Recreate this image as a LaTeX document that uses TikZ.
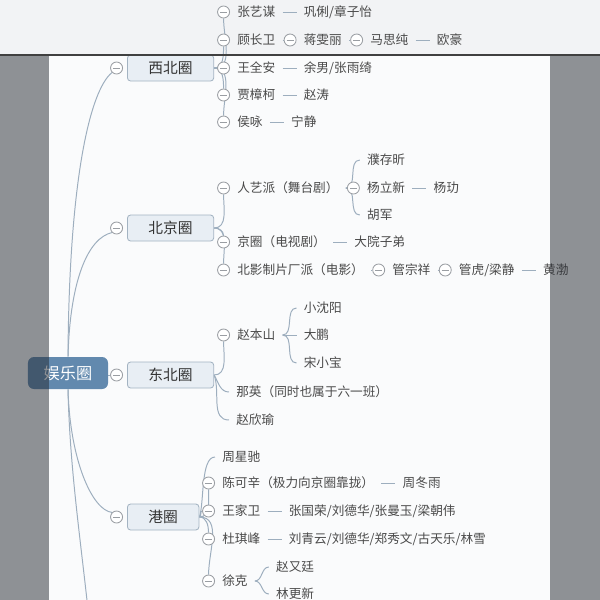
\documentclass[tikz,border=0pt]{standalone}
\usepackage{fontspec}
\setmainfont{Noto Sans CJK SC}
\usetikzlibrary{positioning}
\definecolor{pagewhite}{HTML}{FAFBFC}
\definecolor{stripgray}{HTML}{F2F3F5}
\definecolor{sidegray}{HTML}{24282F}
\definecolor{rootblue}{HTML}{6289AE}
\definecolor{catfill}{HTML}{E8EEF4}
\definecolor{catedge}{HTML}{A3B3C2}
\definecolor{cattext}{HTML}{333333}
\definecolor{leaftext}{HTML}{4A4A4A}
\definecolor{linkblue}{HTML}{9DAEBE}
\definecolor{foldgray}{HTML}{9A9EA3}
\pgfdeclarelayer{bg}
\pgfdeclarelayer{links}
\pgfdeclarelayer{fg}
\pgfsetlayers{bg,links,main,fg}
\begin{document}
\begin{tikzpicture}[x=0.025cm, y=-0.025cm, node distance=0.35cm,
    leaf/.style={anchor=west, inner xsep=0.175cm, inner ysep=0.05cm, text=leaftext, font=\fontsize{9}{11}\selectfont},
    catbox/.style={anchor=west, draw=catedge, fill=catfill, line width=0.6pt, rounded corners=0.08cm, minimum height=0.65cm, inner xsep=0.525cm, text=cattext, font=\fontsize{10.5}{12}\selectfont},
    rootbox/.style={fill=rootblue, rounded corners=0.15cm, minimum width=2cm, minimum height=0.8cm, text=white, font=\fontsize{11.5}{13}\selectfont},
    foldmark/.style={circle, draw=foldgray, fill=white, line width=0.6pt, minimum size=0.3cm, inner sep=0pt,
        path picture={\draw[foldgray, line width=0.6pt] ([xshift=0.06cm]path picture bounding box.west) -- ([xshift=-0.06cm]path picture bounding box.east);}},
    conn/.style={draw=linkblue, line width=0.7pt}]
    \useasboundingbox (0,0) rectangle (600,600);
    \clip (0,0) rectangle (600,600);
    %% Page
    \begin{pgfonlayer}{bg}
        \fill[pagewhite] (0,0) rectangle (600,600);
        \fill[stripgray] (0,0) rectangle (600,55);
    \end{pgfonlayer}
    %% Root and circles
    \node[rootbox] (ylq) at (68,373) {娱乐圈};
    \node[catbox] (xbq) at (127,68) {西北圈};
    \node[catbox] (bjq) at (127,228) {北京圈};
    \node[catbox] (dbq) at (127,375) {东北圈};
    \node[catbox] (gq) at (127,517) {港圈};
    \node[foldmark, left=0.1cm of xbq] (xbq-c) {};
    \node[foldmark, left=0.1cm of bjq] (bjq-c) {};
    \node[foldmark, left=0.1cm of dbq] (dbq-c) {};
    \node[foldmark, left=0.1cm of gq] (gq-c) {};
    %% Xibei
    \node[leaf] (zym) at (230,12) {张艺谋};
    \node[leaf, right=of zym] (gl) {巩俐/章子怡};
    \node[leaf] (gcw) at (230,40) {顾长卫};
    \node[leaf, right=of gcw] (jwl) {蒋雯丽};
    \node[leaf, right=of jwl] (msc) {马思纯};
    \node[leaf, right=of msc] (oh) {欧豪};
    \node[leaf] (wqa) at (230,68) {王全安};
    \node[leaf, right=of wqa] (yn) {余男/张雨绮};
    \node[leaf] (jzk) at (230,95) {贾樟柯};
    \node[leaf, right=of jzk] (zt) {赵涛};
    \node[leaf] (hy) at (230,122) {侯咏};
    \node[leaf, right=of hy] (nj) {宁静};
    \node[foldmark, left=0pt of zym] (zym-c) {};
    \node[foldmark, left=0pt of gcw] (gcw-c) {};
    \node[foldmark, left=0pt of jwl] (jwl-c) {};
    \node[foldmark, left=0pt of msc] (msc-c) {};
    \node[foldmark, left=0pt of wqa] (wqa-c) {};
    \node[foldmark, left=0pt of jzk] (jzk-c) {};
    \node[foldmark, left=0pt of hy] (hy-c) {};
    %% Beijing
    \node[leaf] (ryp) at (230,188) {人艺派（舞台剧）};
    \node[leaf, right=of ryp] (ylx) {杨立新};
    \node[leaf, right=of ylx] (yl) {杨玏};
    \node[leaf, xshift=0.35cm] (pcx) at (ryp.east |- 0,160) {濮存昕};
    \node[leaf, xshift=0.35cm] (hj) at (ryp.east |- 0,215) {胡军};
    \node[leaf] (jq) at (230,242) {京圈（电视剧）};
    \node[leaf, right=of jq] (dyzd) {大院子弟};
    \node[leaf] (bypc) at (230,270) {北影制片厂派（电影）};
    \node[leaf, right=of bypc] (gzx) {管宗祥};
    \node[leaf, right=of gzx] (gh) {管虎/梁静};
    \node[leaf, right=of gh] (hb) {黄渤};
    \node[foldmark, left=0pt of ryp] (ryp-c) {};
    \node[foldmark, left=0pt of ylx] (ylx-c) {};
    \node[foldmark, left=0pt of jq] (jq-c) {};
    \node[foldmark, left=0pt of bypc] (bypc-c) {};
    \node[foldmark, left=0pt of gzx] (gzx-c) {};
    \node[foldmark, left=0pt of gh] (gh-c) {};
    %% Dongbei
    \node[leaf] (zbs) at (230,335) {赵本山};
    \node[leaf, right=of zbs] (dp) {大鹏};
    \node[leaf, xshift=0.35cm] (xsy) at (zbs.east |- 0,308) {小沈阳};
    \node[leaf, xshift=0.35cm] (sxb) at (zbs.east |- 0,363) {宋小宝};
    \node[leaf] (ny) at (229,392) {那英（同时也属于六一班）};
    \node[leaf] (zxy) at (229,420) {赵欣瑜};
    \node[foldmark, left=0pt of zbs] (zbs-c) {};
    %% Gang
    \node[leaf] (zxc) at (215,457) {周星驰};
    \node[leaf] (ckx) at (215,483) {陈可辛（极力向京圈靠拢）};
    \node[leaf, right=of ckx] (zdy) {周冬雨};
    \node[leaf] (wjw) at (215,511) {王家卫};
    \node[leaf, right=of wjw] (zgr) {张国荣/刘德华/张曼玉/梁朝伟};
    \node[leaf] (dqf) at (215,539) {杜琪峰};
    \node[leaf, right=of dqf] (lqy) {刘青云/刘德华/郑秀文/古天乐/林雪};
    \node[leaf] (xk) at (215,581) {徐克};
    \node[leaf, xshift=0.35cm] (zyt) at (xk.east |- 0,567) {赵又廷};
    \node[leaf, xshift=0.35cm] (lgx) at (xk.east |- 0,594) {林更新};
    \node[foldmark, left=0pt of ckx] (ckx-c) {};
    \node[foldmark, left=0pt of wjw] (wjw-c) {};
    \node[foldmark, left=0pt of dqf] (dqf-c) {};
    \node[foldmark, left=0pt of xk] (xk-c) {};
    \coordinate (more) at (92,650);
    %% Connectors
    \begin{pgfonlayer}{links}
        \draw[conn] (ylq.north) .. controls (69,180) and (90,90) .. (xbq-c.south west);
        \draw[conn] (ylq.north) .. controls (70,280) and (88,238) .. (bjq-c.south west);
        \draw[conn] (ylq.east |- dbq-c) -- (dbq-c.west);
        \draw[conn] (ylq.south) .. controls (70,460) and (92,510) .. (gq-c.north west);
        \draw[conn] (ylq.south) .. controls (70,480) and (84,560) .. (more);
        % xibei
        \draw[conn] (xbq.east) to[out=0,in=-90] (zym-c.south);
        \draw[conn] (xbq.east) to[out=0,in=-90] (gcw-c.south);
        \draw[conn] (xbq.east) -- (wqa-c.west);
        \draw[conn] (xbq.east) to[out=0,in=90] (jzk-c.north);
        \draw[conn] (xbq.east) to[out=0,in=90] (hy-c.north);
        \draw[conn] (zym) -- (gl);
        \draw[conn] (gcw) -- (jwl-c);
        \draw[conn] (jwl) -- (msc-c);
        \draw[conn] (msc) -- (oh);
        \draw[conn] (wqa) -- (yn);
        \draw[conn] (jzk) -- (zt);
        \draw[conn] (hy) -- (nj);
        % beijing
        \draw[conn] (bjq.east) to[out=0,in=-90] (ryp-c.south);
        \draw[conn] (bjq.east) to[out=0,in=90] (jq-c.north);
        \draw[conn] (bjq.east) to[out=0,in=90] (bypc-c.north);
        \draw[conn] (ryp.east) to[out=0,in=180] (pcx.west);
        \draw[conn] (ryp) -- (ylx-c);
        \draw[conn] (ryp.east) to[out=0,in=180] (hj.west);
        \draw[conn] (ylx) -- (yl);
        \draw[conn] (jq) -- (dyzd);
        \draw[conn] (bypc) -- (gzx-c);
        \draw[conn] (gzx) -- (gh-c);
        \draw[conn] (gh) -- (hb);
        % dongbei
        \draw[conn] (dbq.east) to[out=0,in=-90] (zbs-c.south);
        \draw[conn] (dbq.east) to[out=-60,in=180] (ny.west);
        \draw[conn] (dbq.east) to[out=-70,in=180] (zxy.west);
        \draw[conn] (zbs.east) to[out=0,in=180] (xsy.west);
        \draw[conn] (zbs) -- (dp);
        \draw[conn] (zbs.east) to[out=0,in=180] (sxb.west);
        % gang
        \draw[conn] (gq.east) to[out=70,in=180,looseness=0.6] (zxc.west);
        \draw[conn] (gq.east) to[out=0,in=-90] (ckx-c.south);
        \draw[conn] (gq.east) to[out=0,in=180] (wjw-c.west);
        \draw[conn] (gq.east) to[out=0,in=90] (dqf-c.north);
        \draw[conn] (gq.east) to[out=0,in=90] (xk-c.north);
        \draw[conn] (ckx) -- (zdy);
        \draw[conn] (wjw) -- (zgr);
        \draw[conn] (dqf) -- (lqy);
        \draw[conn] (xk.east) to[out=0,in=180] (zyt.west);
        \draw[conn] (xk.east) to[out=0,in=180] (lgx.west);
    \end{pgfonlayer}
    %% Side panels
    \begin{pgfonlayer}{fg}
        \fill[sidegray, fill opacity=0.5] (0,55) rectangle (49,600);
        \fill[sidegray, fill opacity=0.5] (550,55) rectangle (600,600);
        \draw[black!75, line width=1pt] (0,55) -- (600,55);
    \end{pgfonlayer}
\end{tikzpicture}
\end{document}
